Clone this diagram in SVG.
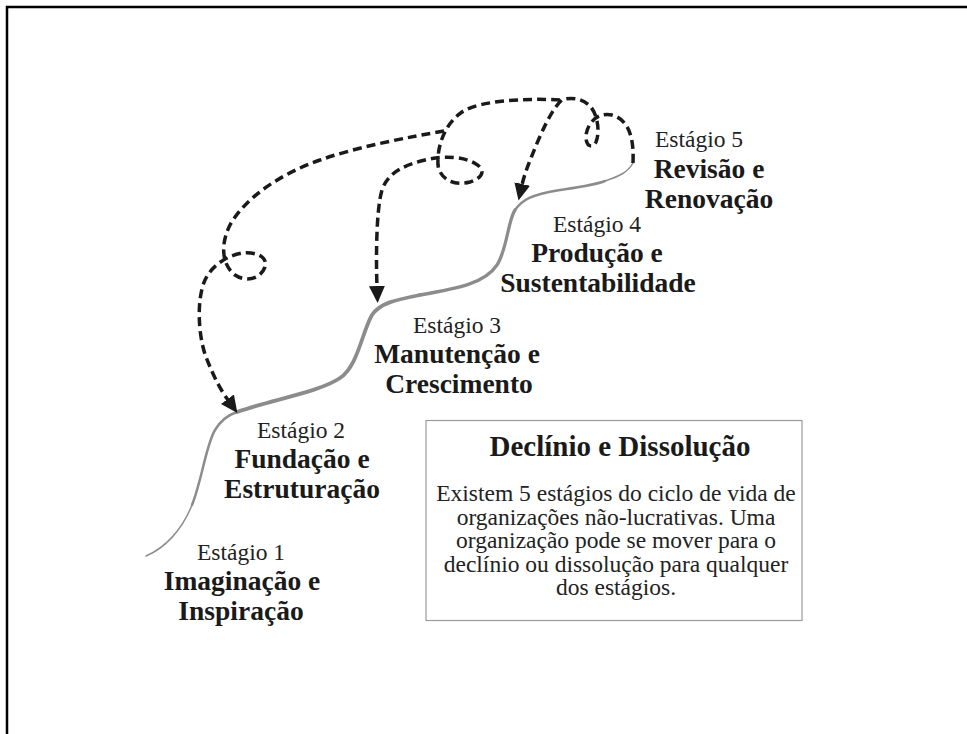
<svg xmlns="http://www.w3.org/2000/svg" width="967" height="734" viewBox="0 0 967 734">
<style>
.frame{fill:none;stroke:#000;stroke-width:2.5}
.growth{fill:none;stroke:#8c8c8c;stroke-linecap:round}
.dash{fill:none;stroke:#1a1a1a;stroke-width:3.5;stroke-dasharray:9 5}
.st{font-family:"Liberation Serif","Times New Roman",serif;font-size:23.5px;fill:#222;text-anchor:middle}
.tt{font-family:"Liberation Serif","Times New Roman",serif;font-size:27.5px;font-weight:bold;fill:#1a1a1a;text-anchor:middle}
.hd{font-size:29px}
.box{fill:#fff;stroke:#9a9a9a;stroke-width:1.2}
</style>
<defs>
<marker id="ah" markerUnits="userSpaceOnUse" markerWidth="18" markerHeight="17" refX="1" refY="8" orient="auto">
<path d="M0,0 L17,8 L0,16 z" fill="#1a1a1a"/>
</marker>
</defs>
<rect width="967" height="734" fill="#fff"/>
<path class="frame" d="M7,734 L7,7 L967,7"/>

<g id="growth-curve">
<path class="growth" stroke-width="1.5" d="M146,556 C165,548 182,530 192,505"/>
<path class="growth" stroke-width="2.5" d="M192,505 C202,480 206,445 215,430 C221,420 228,415 237,412"/>
<path class="growth" stroke-width="3.8" d="M237,412 C270,400 320,392 340,378 C358,366 362,332 372,315 C380,303 395,300 420,295"/>
<path class="growth" stroke-width="3.3" d="M420,295 C460,288 485,283 497,265 C507,250 508,220 515,210"/>
<path class="growth" stroke-width="2.5" d="M515,210 C522,200 530,195 560,190 C580,187 595,185 605,181"/>
<path class="growth" stroke-width="1.5" d="M605,181 C620,176 628,172 633,163"/>
</g>

<g id="connectors">
<path class="dash" marker-end="url(#ah)" d="M633,163 C634,140 630,120 612,115 C598,112 588,122 586,135 C585,145 592,150 596,142 C600,132 598,115 590,106 C582,98 570,97 562,100 C552,108 540,135 531,158 C527,168 524,176 522,185"/>
<path class="dash" marker-end="url(#ah)" d="M560,100 C530,98 480,100 462,112 C445,124 437,145 438,165 C440,180 455,186 470,182 C483,178 486,170 476,164 C465,157 445,155 425,160 C405,165 388,172 382,190 C376,210 376,260 377,287"/>
<path class="dash" marker-end="url(#ah)" d="M444,131 C410,137 360,146 320,160 C280,174 245,198 230,225 C220,245 222,265 235,275 C245,282 260,280 265,267 C268,256 255,252 243,253 C228,255 212,265 205,280 C196,300 198,340 208,362 C214,377 220,389 228,400"/>
</g>

<g id="stage1">
<text class="st" x="241" y="560">Estágio 1</text>
<text class="tt" x="242" y="590">Imaginação e</text>
<text class="tt" x="241" y="620">Inspiração</text>
</g>
<g id="stage2">
<text class="st" x="301" y="438">Estágio 2</text>
<text class="tt" x="302" y="468">Fundação e</text>
<text class="tt" x="302" y="498">Estruturação</text>
</g>
<g id="stage3">
<text class="st" x="457" y="333">Estágio 3</text>
<text class="tt" x="457" y="363">Manutenção e</text>
<text class="tt" x="459" y="393">Crescimento</text>
</g>
<g id="stage4">
<text class="st" x="597" y="232">Estágio 4</text>
<text class="tt" x="597" y="262">Produção e</text>
<text class="tt" x="598" y="292">Sustentabilidade</text>
</g>
<g id="stage5">
<text class="st" x="699" y="147">Estágio 5</text>
<text class="tt" x="709" y="178">Revisão e</text>
<text class="tt" x="709" y="208">Renovação</text>
</g>

<g id="decline-box">
<rect class="box" x="426" y="420.5" width="376" height="200"/>
<text class="tt hd" x="620" y="456">Declínio e Dissolução</text>
<text class="st" x="616" y="501">Existem 5 estágios do ciclo de vida de</text>
<text class="st" x="616" y="524.5">organizações não-lucrativas. Uma</text>
<text class="st" x="616" y="548">organização pode se mover para o</text>
<text class="st" x="616" y="571.5">declínio ou dissolução para qualquer</text>
<text class="st" x="616" y="595">dos estágios.</text>
</g>
</svg>
